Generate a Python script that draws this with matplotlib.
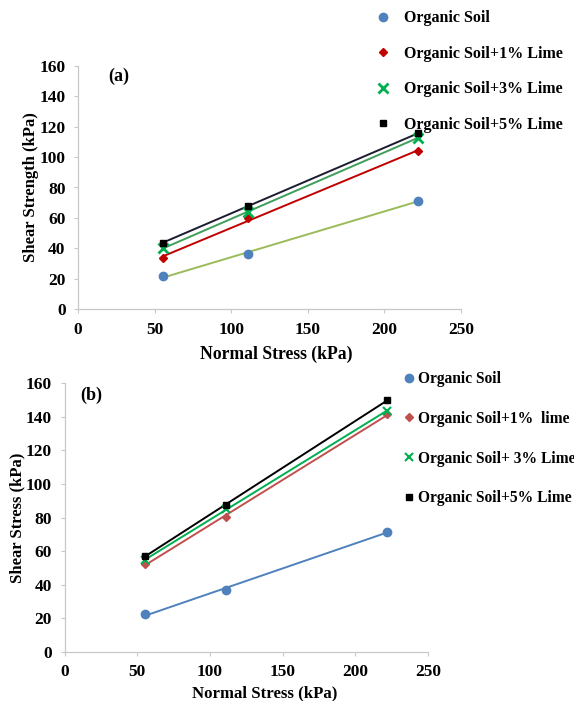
import numpy as np
import matplotlib
matplotlib.use("Agg")
import matplotlib.pyplot as plt

plt.rcParams['font.family'] = ['Liberation Serif', 'DejaVu Serif']
plt.rcParams['font.weight'] = 'bold'

W, H = 574, 701

# (a) shear strength
normal_a = [55.5, 111, 222]
soil_a = [21.5, 36.2, 71.3]
lime1_a = [33.6, 59.7, 104.0]
lime3_a = [40.0, 64.0, 112.8]
lime5_a = [43.7, 67.8, 115.7]
labels_a = ['Organic Soil', 'Organic Soil+1% Lime',
            'Organic Soil+3% Lime', 'Organic Soil+5% Lime']

# (b) shear stress
normal_b = [55.5, 111, 222]
soil_b = [22.3, 36.8, 71.5]
lime1_b = [52.5, 80.1, 141.5]
lime3_b = [54.7, 84.9, 143.7]
lime5_b = [57.2, 87.3, 150.0]
labels_b = ['Organic Soil', 'Organic Soil+1%  lime',
            'Organic Soil+ 3% Lime', 'Organic Soil+5% Lime']

xticks = [0, 50, 100, 150, 200, 250]
yticks = [0, 20, 40, 60, 80, 100, 120, 140, 160]


def px_axes(fig, left, top, right, bottom):
    return fig.add_axes([left / W, 1 - bottom / H, (right - left) / W, (bottom - top) / H])


def style_axes(ax, xlabel, ylabel, xl_size, xl_pad, xl_x):
    ax.set_xlim(0, 250)
    ax.set_ylim(0, 160)
    ax.set_xticks(xticks)
    ax.set_yticks(yticks)
    for side in ['top', 'right']:
        ax.spines[side].set_visible(False)
    for side in ['left', 'bottom']:
        ax.spines[side].set_color('#c8c8c8')
        ax.spines[side].set_linewidth(0.9)
    ax.tick_params(axis='both', direction='out', length=3, width=0.8,
                   color='#c8c8c8', labelsize=12.5, pad=6)
    for lab in ax.get_xticklabels() + ax.get_yticklabels():
        lab.set_fontweight('bold')
    ax.set_xlabel(xlabel, fontsize=xl_size, fontweight='bold', labelpad=xl_pad)
    ax.xaxis.label.set_x(xl_x)
    ax.set_ylabel(ylabel, fontsize=12, fontweight='bold', labelpad=0.5)


def trend(ax, x, y, color, lw=1.4):
    k, b = np.polyfit(x, y, 1)
    xs = np.array([min(x), max(x)])
    ax.plot(xs, k * xs + b, color=color, lw=lw, zorder=2)


fig = plt.figure(figsize=(W / 100, H / 100), dpi=100)
fig.patch.set_facecolor('white')

# ---------- panel (a) ----------
ax1 = px_axes(fig, 78, 66, 461, 309)
series_a = [
    (soil_a, 'o', '#4F81BD', '#9BBB59', 6),
    (lime1_a, 'D', '#C00000', '#C00000', 4),
    (lime3_a, 'x', '#00B050', '#3E9E5A', 7),
    (lime5_a, 's', '#000000', '#1C1C30', 5),
]
handles_a = []
for (ys, mk, mc, lc, ms), lab in zip(series_a, labels_a):
    trend(ax1, normal_a, ys, lc)
    h, = ax1.plot(normal_a, ys, ls='none', marker=mk, color=mc, ms=ms,
                  mew=2 if mk == 'x' else 1, label=lab, zorder=3)
    handles_a.append(h)
ax1.text(0.08, 0.958, '(a)', transform=ax1.transAxes, fontsize=13,
         fontweight='bold', va='center')
style_axes(ax1, 'Normal Stress (kPa)', 'Shear Strength (kPa)', 12.7, 6, 0.517)
fig.legend(handles=handles_a, loc='upper left',
           bbox_to_anchor=(359 / W, 1 + 4 / H), frameon=False,
           handlelength=1.2, handletextpad=0.7, labelspacing=1.22,
           prop={'family': 'Liberation Serif', 'weight': 'bold', 'size': 11.5})

# ---------- panel (b) ----------
ax2 = px_axes(fig, 64.5, 383.3, 428, 651.7)
series_b = [
    (soil_b, 'o', '#4F81BD', '#4F81BD', 6),
    (lime1_b, 'D', '#C0504D', '#C0504D', 4),
    (lime3_b, 'x', '#00B050', '#00B050', 6),
    (lime5_b, 's', '#000000', '#000000', 5),
]
handles_b = []
for (ys, mk, mc, lc, ms), lab in zip(series_b, labels_b):
    trend(ax2, normal_b, ys, lc)
    h, = ax2.plot(normal_b, ys, ls='none', marker=mk, color=mc, ms=ms,
                  mew=1.5 if mk == 'x' else 1, label=lab, zorder=3)
    handles_b.append(h)
ax2.text(0.042, 0.955, '(b)', transform=ax2.transAxes, fontsize=13,
         fontweight='bold', va='center')
style_axes(ax2, 'Normal Stress (kPa)', 'Shear Stress (kPa)', 12.1, 3.5, 0.552)
fig.legend(handles=handles_b, loc='upper left',
           bbox_to_anchor=(390 / W, 1 - 357 / H), frameon=False,
           handlelength=0.6, handletextpad=0.3, labelspacing=1.53,
           prop={'family': 'Liberation Serif', 'weight': 'bold', 'size': 11.2})

fig.savefig('out.png', dpi=100, facecolor='white')
